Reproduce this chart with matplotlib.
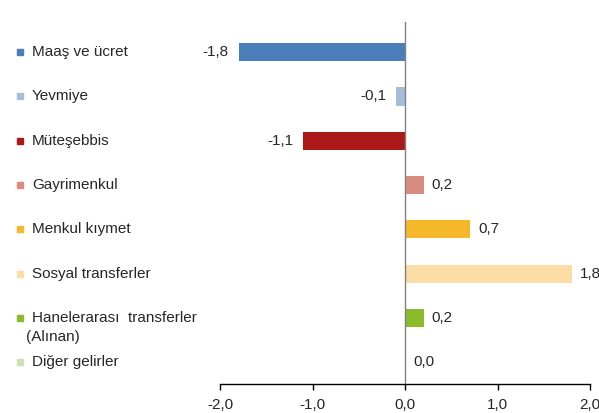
import matplotlib
matplotlib.use("Agg")
import matplotlib.pyplot as plt
import matplotlib.transforms as mtransforms

plt.rcParams['font.family'] = ['Liberation Sans', 'DejaVu Sans']

categories = ["Maaş ve ücret", "Yevmiye", "Müteşebbis", "Gayrimenkul",
              "Menkul kıymet", "Sosyal transferler", "Hanelerarası  transferler", "Diğer gelirler"]
sub_label = "(Alınan)"
values = [-1.8, -0.1, -1.1, 0.2, 0.7, 1.8, 0.2, 0.0]
colors = ["#4A7EBB", "#A6BEDC", "#AA1818", "#D98C80",
          "#F5B82A", "#FCDDA6", "#8BBA2A", "#CFE0B2"]
xticks = [-2.0, -1.0, 0.0, 1.0, 2.0]

FS = 11
TXT = '#262626'

fig = plt.figure(figsize=(5.99, 4.13), dpi=100)
W, H = 599, 413
ax = fig.add_axes([220 / W, (H - 384) / H, (590 - 220) / W, (384 - 22) / H])

ypos = list(range(len(values)))
ax.barh(ypos, values, height=0.41, color=colors)
ax.set_xlim(-2.0, 2.0)
ax.set_ylim(7.49, -0.68)

for s in ['top', 'right', 'left']:
    ax.spines[s].set_visible(False)
ax.spines['bottom'].set_color('black')
ax.spines['bottom'].set_linewidth(1.0)
ax.axvline(0, color='#808080', lw=1.0, zorder=3)
ax.set_yticks([])
ax.set_xticks(xticks)
ax.set_xticklabels([f"{t:.1f}".replace('.', ',') for t in xticks], fontsize=FS, color=TXT)
ax.tick_params(axis='x', direction='out', length=4, width=1.0, pad=6, color='black')

def fmt(v):
    return f"{v:.1f}".replace('.', ',')

for y, v in zip(ypos, values):
    if v < 0:
        ax.annotate(fmt(v), (v, y), xytext=(-7, 0), textcoords='offset points',
                    ha='right', va='center', fontsize=FS, color=TXT)
    else:
        ax.annotate(fmt(v), (v, y), xytext=(6, 0), textcoords='offset points',
                    ha='left', va='center', fontsize=FS, color=TXT)

tr = mtransforms.blended_transform_factory(fig.transFigure, ax.transData)
for y, c, lab in zip(ypos, colors, categories):
    ax.plot([20 / W], [y], marker='s', markersize=4.3, color=c, transform=tr, clip_on=False, lw=0)
    ax.text(32 / W, y, lab, transform=tr, ha='left', va='center', fontsize=FS, color=TXT)
ax.text(26 / W, 6 + 0.43, sub_label, transform=tr, ha='left', va='center', fontsize=FS, color=TXT)

fig.savefig("out.png", dpi=100)
